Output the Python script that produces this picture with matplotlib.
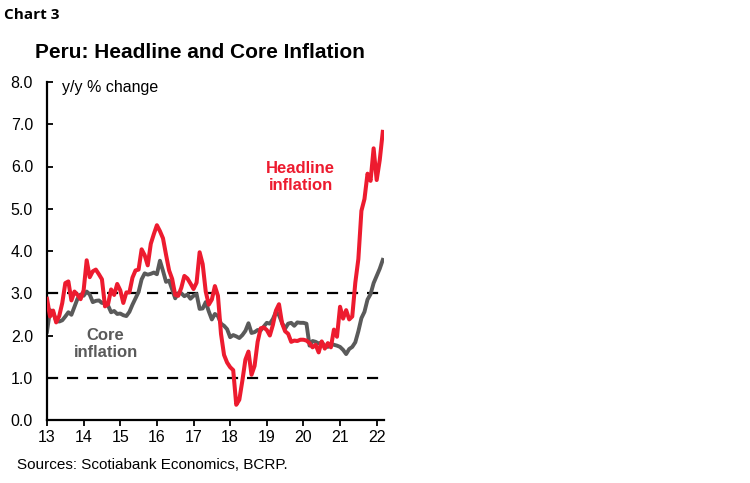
import numpy as np
import matplotlib
matplotlib.use("Agg")
import matplotlib.pyplot as plt

plt.rcParams['font.family'] = ['Liberation Sans', 'DejaVu Sans']

# ── data: monthly, Jan 2013 .. Mar 2022 ──
headline = [
    2.87, 2.45, 2.59, 2.31, 2.46, 2.77, 3.24, 3.28, 2.83, 3.04, 2.96, 2.86,
    3.07, 3.78, 3.38, 3.52, 3.56, 3.45, 3.33, 2.69, 2.74, 3.09, 2.96, 3.22,
    3.07, 2.77, 3.02, 3.02, 3.37, 3.54, 3.56, 4.04, 3.90, 3.66, 4.17, 4.40,
    4.61, 4.47, 4.30, 3.91, 3.54, 3.34, 2.96, 2.94, 3.13, 3.41, 3.35, 3.23,
    3.10, 3.25, 3.97, 3.69, 3.04, 2.73, 2.85, 3.17, 2.94, 2.04, 1.54, 1.36,
    1.25, 1.18, 0.36, 0.48, 0.93, 1.43, 1.62, 1.07, 1.28, 1.85, 2.17, 2.19,
    2.13, 2.00, 2.25, 2.59, 2.74, 2.29, 2.10, 2.04, 1.85, 1.88, 1.87, 1.90,
    1.90, 1.88, 1.82, 1.72, 1.78, 1.60, 1.86, 1.69, 1.82, 1.72, 2.14, 1.97,
    2.68, 2.40, 2.60, 2.38, 2.45, 3.25, 3.81, 4.95, 5.23, 5.83, 5.66, 6.43,
    5.68, 6.15, 6.82,
]
core = [
    2.09, 2.60, 2.55, 2.35, 2.33, 2.36, 2.45, 2.55, 2.49, 2.68, 2.87, 2.97,
    2.94, 3.04, 2.97, 2.79, 2.82, 2.83, 2.77, 2.77, 2.71, 2.55, 2.58, 2.51,
    2.52, 2.48, 2.46, 2.56, 2.73, 2.88, 3.03, 3.33, 3.47, 3.44, 3.46, 3.49,
    3.45, 3.77, 3.53, 3.27, 3.30, 3.09, 2.88, 3.00, 3.00, 2.93, 2.97, 2.87,
    2.94, 2.98, 2.63, 2.64, 2.79, 2.57, 2.38, 2.51, 2.46, 2.28, 2.23, 2.15,
    1.96, 2.01, 1.98, 1.94, 2.01, 2.11, 2.29, 2.06, 2.08, 2.13, 2.12, 2.21,
    2.30, 2.28, 2.39, 2.56, 2.48, 2.30, 2.16, 2.28, 2.30, 2.23, 2.31, 2.30,
    2.30, 2.28, 1.76, 1.87, 1.85, 1.81, 1.84, 1.75, 1.73, 1.81, 1.78, 1.76,
    1.73, 1.66, 1.56, 1.68, 1.73, 1.84, 2.10, 2.41, 2.56, 2.85, 2.98, 3.24,
    3.41, 3.58, 3.79,
]
year_ticks = [13, 14, 15, 16, 17, 18, 19, 20, 21, 22]
y_ticks = [0, 1, 2, 3, 4, 5, 6, 7, 8]
target_band = [1.0, 3.0]

x = 13 + np.arange(len(headline)) / 12.0

RED = '#ED1B2F'
GREY = '#5A5A5A'

fig = plt.figure(figsize=(7.5, 4.83), dpi=100)
ax = fig.add_axes([47 / 750, 1 - 420 / 483, (384 - 47) / 750, (420 - 82) / 483])

# target range lines
for lvl in target_band:
    ax.axhline(lvl, color='black', lw=1.6, ls=(0, (5, 4)), zorder=1)

ax.plot(x, core, color=GREY, lw=2.8, zorder=2, solid_joinstyle='round')
ax.plot(x, headline, color=RED, lw=2.9, zorder=3, solid_joinstyle='round')

ax.set_xlim(13, 13 + 111 / 12.0 - 0.05)
ax.set_ylim(0, 8)
ax.set_xticks(year_ticks)
ax.set_xticklabels([str(t) for t in year_ticks])
ax.set_yticks(y_ticks)
ax.set_yticklabels([f'{t:.1f}' for t in y_ticks])
ax.tick_params(axis='y', direction='in', length=4, width=1.3, labelsize=11.5, pad=10, colors='black')
ax.tick_params(axis='x', direction='out', length=4, width=1.3, labelsize=11.5, pad=3)
for s in ['top', 'right']:
    ax.spines[s].set_visible(False)
for s in ['left', 'bottom']:
    ax.spines[s].set_linewidth(1.6)

ax.text(13.41, 7.88, 'y/y % change', fontsize=11.5, va='center', ha='left')
ax.text(19.93, 5.75, 'Headline\ninflation', color=RED, fontsize=12, fontweight='bold',
        ha='center', va='center', linespacing=1.2)
ax.text(14.6, 1.80, 'Core\ninflation', color=GREY, fontsize=12, fontweight='bold',
        ha='center', va='center', linespacing=1.2)

fig.text(200 / 750, 1 - 52 / 483, 'Peru: Headline and Core Inflation', fontsize=15,
         fontweight='bold', ha='center', va='center')
fig.text(4 / 750, 1 - 15 / 483, 'Chart 3', fontsize=11, fontweight='bold',
         family=['Open Sans', 'DejaVu Sans'], ha='left', va='center')
fig.text(17 / 750, 1 - 465 / 483, 'Sources: Scotiabank Economics, BCRP.', fontsize=11,
         ha='left', va='center')

fig.savefig('out.png', dpi=100)
plt.close(fig)
